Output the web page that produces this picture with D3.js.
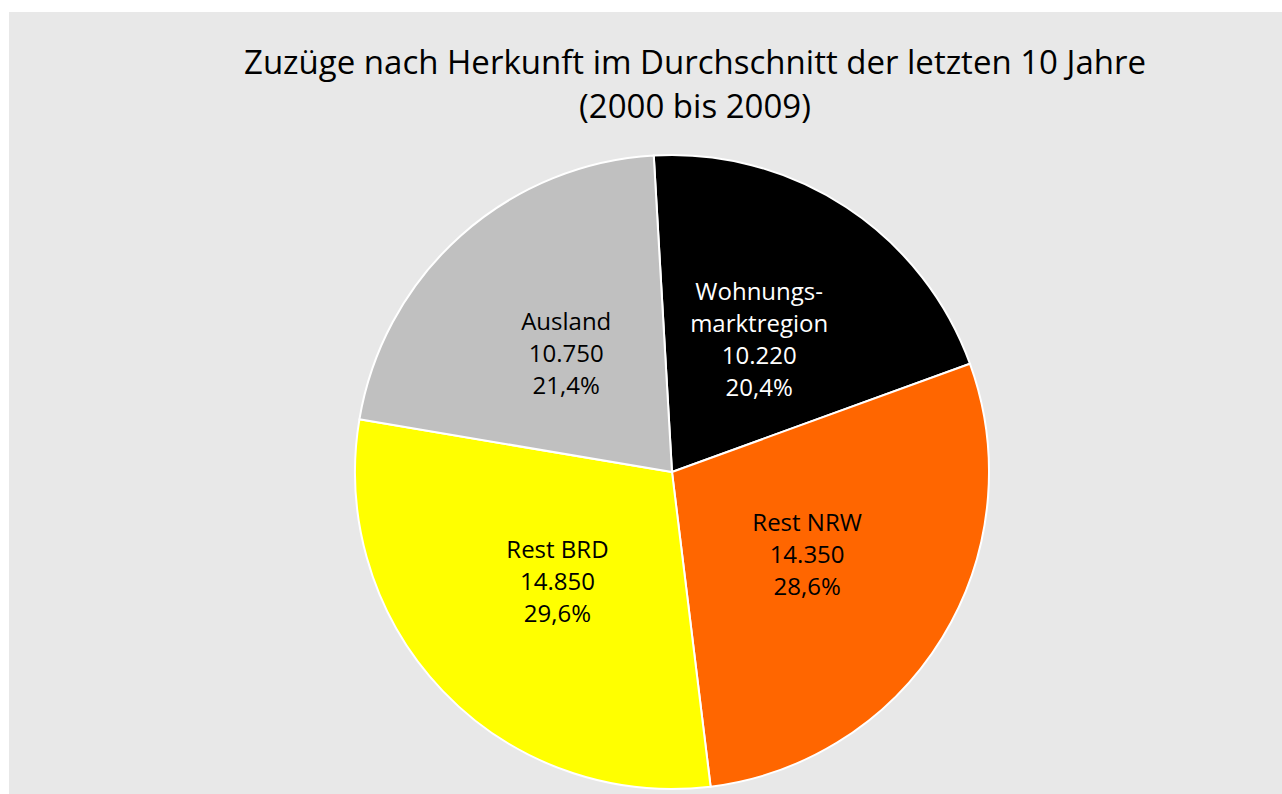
<!DOCTYPE html>
<html lang="de">
	<head>
		<meta charset="utf-8">
		<title>Zuzüge nach Herkunft</title>
		<script type="text/javascript" src="https://d3js.org/d3.v7.min.js"></script>
		<style type="text/css">
			body { margin: 0; background: #ffffff; }
			.title { font-family: "Open Sans", sans-serif; font-size: 33px; fill: #000; }
			.slice-label { font-family: "Open Sans", sans-serif; font-size: 24px; }
		</style>
	</head>
	<body>
		<div id="chart"></div>
		<script type="text/javascript">
			// Data
			const categories = ["Wohnungs-\nmarktregion", "Rest NRW", "Rest BRD", "Ausland"];
			const values = [10220, 14350, 14850, 10750];
			const percentLabels = ["20,4%", "28,6%", "29,6%", "21,4%"];
			const sliceColors = ["#000000", "#ff6600", "#ffff00", "#c0c0c0"];
			const labelColors = ["#ffffff", "#000000", "#000000", "#000000"];
			const titleLines = ["Zuzüge nach Herkunft im Durchschnitt der letzten 10 Jahre", "(2000 bis 2009)"];

			const width = 1282, height = 794;
			const cx = 672, cy = 472, radius = 317;
			const fmt = d3.formatLocale({ decimal: ",", thousands: ".", grouping: [3] }).format(",");

			const svg = d3.select("#chart").append("svg")
				.attr("width", width)
				.attr("height", height);

			// background panel
			svg.append("rect")
				.attr("x", 9).attr("y", 12)
				.attr("width", width - 9).attr("height", height - 12)
				.attr("fill", "#e8e8e8");

			// title
			svg.append("g").selectAll("text")
				.data(titleLines)
				.enter().append("text")
				.attr("class", "title")
				.attr("x", 695)
				.attr("y", (d, i) => 74 + i * 44)
				.attr("text-anchor", "middle")
				.text(d => d);

			const data = categories.map((c, i) => ({ name: c, value: values[i], pct: percentLabels[i], color: sliceColors[i], tc: labelColors[i] }));

			const startA = -3.3 * Math.PI / 180;
			const pie = d3.pie().sort(null).value(d => d.value)
				.startAngle(startA).endAngle(startA + 2 * Math.PI);
			const arc = d3.arc().innerRadius(0).outerRadius(radius);

			const g = svg.append("g").attr("transform", "translate(" + cx + "," + cy + ")");

			g.selectAll("path")
				.data(pie(data))
				.enter().append("path")
				.attr("d", arc)
				.attr("fill", d => d.data.color)
				.attr("stroke", "#ffffff")
				.attr("stroke-width", 2)
				.attr("stroke-linejoin", "round");

			// labels at the slice centroid (half radius)
			const lineH = 32;
			g.selectAll(".slice-label")
				.data(pie(data))
				.enter().append("text")
				.attr("class", "slice-label")
				.attr("fill", d => d.data.tc)
				.attr("text-anchor", "middle")
				.each(function(d) {
					const lines = d.data.name.split("\n").concat([fmt(d.data.value), d.data.pct]);
					const c = arc.centroid(d);
					const top = c[1] - (lines.length - 1) * lineH / 2 + 8;
					d3.select(this).selectAll("tspan")
						.data(lines)
						.enter().append("tspan")
						.attr("x", c[0])
						.attr("y", (l, i) => top + i * lineH)
						.text(l => l);
				});
		</script>
	</body>
</html>
